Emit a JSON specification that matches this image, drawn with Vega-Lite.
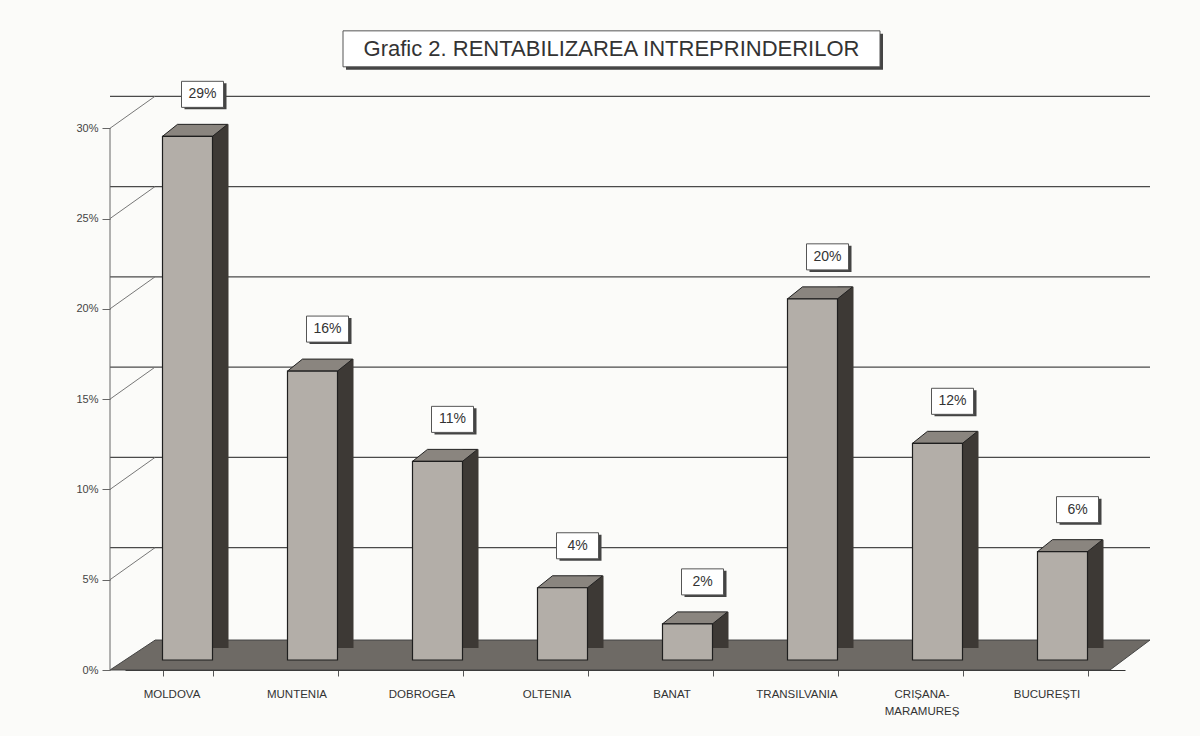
{
  "$schema": "https://vega.github.io/schema/vega-lite/v6.json",
  "width": 1040,
  "height": 632,
  "autosize": "none",
  "padding": {"left": 110, "top": 38, "right": 50, "bottom": 66},
  "background": "#fbfbf9",
  "config": {"view": {"stroke": null}, "font": "Liberation Sans"},
  "datasets": {
    "bars": [
      {"region": "MOLDOVA", "value": 0.29},
      {"region": "MUNTENIA", "value": 0.16},
      {"region": "DOBROGEA", "value": 0.11},
      {"region": "OLTENIA", "value": 0.04},
      {"region": "BANAT", "value": 0.02},
      {"region": "TRANSILVANIA", "value": 0.20},
      {"region": "CRIȘANA-MARAMUREȘ", "value": 0.12},
      {"region": "BUCUREȘTI", "value": 0.06}
    ],
    "ticks": [
      {"t": 0.05}, {"t": 0.10}, {"t": 0.15}, {"t": 0.20}, {"t": 0.25}, {"t": 0.30}
    ]
  },
  "resolve": {"scale": {"x": "shared", "y": "shared"}},
  "layer": [
    {
      "data": {"name": "bars"},
      "mark": {"type": "bar", "fill": "#b3aea8", "stroke": "#1e1e1e", "strokeWidth": 1.2, "yOffset": -10, "y2Offset": -10, "opacity": 0},
      "encoding": {
        "x": {"field": "region", "type": "nominal", "sort": null,
          "scale": {"range": [15, 1015], "paddingInner": 0.6, "paddingOuter": 0.3},
          "axis": {
            "title": null, "labelAngle": 0, "labelFontSize": 11.5, "labelColor": "#333",
            "labelOffset": -16, "labelPadding": 12, "tickBand": "extent", "tickSize": 6,
            "tickColor": "#555", "domainColor": "#333", "labelBaseline": "top", "labelLineHeight": 17,
            "labelExpr": "datum.label == 'CRIȘANA-MARAMUREȘ' ? ['CRIȘANA-', 'MARAMUREȘ'] : datum.label"
          }
        },
        "y": {"field": "value", "type": "quantitative",
          "scale": {"domain": [0, 0.35], "nice": false},
          "axis": {"title": null, "format": ".0%", "values": [0, 0.05, 0.1, 0.15, 0.2, 0.25, 0.3],
            "grid": false, "domain": false, "tickSize": 8, "tickColor": "#666",
            "labelFontSize": 11, "labelColor": "#444", "labelPadding": 4}
        },
        "y2": {"datum": 0}
      }
    },
    {
      "data": {"values": [{"floor": 1}]},
      "mark": {"type": "point", "filled": true, "opacity": 1, "size": 1081600, "xOffset": 67.5,
        "shape": "M-1,0.0288L0.923,0.0288L1,-0.0288L-0.913,-0.0288Z",
        "fill": "#6e6a65", "stroke": "#444", "strokeWidth": 1},
      "encoding": {
        "x": {"datum": "OLTENIA", "type": "nominal"},
        "y": {"datum": 0.0083, "type": "quantitative"}
      }
    },
    {
      "data": {"name": "ticks"},
      "mark": {"type": "rule", "color": "#4a4a4a", "strokeWidth": 1.2, "xOffset": 45, "yOffset": -32, "clip": true},
      "encoding": {"y": {"field": "t", "type": "quantitative"}}
    },
    {
      "data": {"name": "ticks"},
      "mark": {"type": "rule", "color": "#777", "strokeWidth": 1, "y2Offset": -32},
      "encoding": {
        "x": {"value": 0}, "x2": {"value": 45},
        "y": {"field": "t", "type": "quantitative"}, "y2": {"field": "t"}
      }
    },
    {
      "data": {"values": [{"a": 0, "b": 0.30}]},
      "mark": {"type": "rule", "color": "#666", "strokeWidth": 1},
      "encoding": {
        "x": {"value": 0},
        "y": {"field": "a", "type": "quantitative"}, "y2": {"field": "b"}
      }
    },
    {
      "data": {"name": "bars"},
      "mark": {"type": "bar", "color": "#3d3935", "xOffset": 33, "width": 16, "yOffset": -22, "y2Offset": -22},
      "encoding": {
        "x": {"field": "region", "type": "nominal", "sort": null},
        "y": {"field": "value", "type": "quantitative"},
        "y2": {"datum": 0}
      }
    },
    {
      "data": {"name": "bars"},
      "mark": {"type": "point", "filled": true, "opacity": 1, "size": 4225, "yOffset": -10,
        "shape": "M-0.769,0L0.769,0L1.231,-0.369L-0.308,-0.369Z",
        "fill": "#8a857f", "stroke": "#222", "strokeWidth": 1},
      "encoding": {
        "x": {"field": "region", "type": "nominal", "sort": null},
        "y": {"field": "value", "type": "quantitative"}
      }
    },
    {
      "data": {"name": "bars"},
      "mark": {"type": "bar", "fill": "#b3aea8", "stroke": "#1e1e1e", "strokeWidth": 1.2, "yOffset": -10, "y2Offset": -10},
      "encoding": {
        "x": {"field": "region", "type": "nominal", "sort": null},
        "y": {"field": "value", "type": "quantitative"},
        "y2": {"datum": 0}
      }
    },
    {
      "data": {"name": "bars"},
      "mark": {"type": "point", "filled": true, "opacity": 1, "size": 1764, "xOffset": 18, "yOffset": -50,
        "shape": "M-1,-0.62H1V0.62H-1Z", "fill": "#444"},
      "encoding": {
        "x": {"field": "region", "type": "nominal", "sort": null},
        "y": {"field": "value", "type": "quantitative"}
      }
    },
    {
      "data": {"name": "bars"},
      "mark": {"type": "point", "filled": true, "opacity": 1, "size": 1764, "xOffset": 15, "yOffset": -52,
        "shape": "M-1,-0.62H1V0.62H-1Z", "fill": "#ffffff", "stroke": "#555", "strokeWidth": 1},
      "encoding": {
        "x": {"field": "region", "type": "nominal", "sort": null},
        "y": {"field": "value", "type": "quantitative"}
      }
    },
    {
      "data": {"name": "bars"},
      "mark": {"type": "text", "fontSize": 14, "color": "#333", "xOffset": 15, "yOffset": -52, "baseline": "middle", "align": "center"},
      "encoding": {
        "x": {"field": "region", "type": "nominal", "sort": null},
        "y": {"field": "value", "type": "quantitative"},
        "text": {"field": "value", "type": "quantitative", "format": ".0%"}
      }
    },
    {
      "data": {"values": [{"title": "Grafic 2. RENTABILIZAREA INTREPRINDERILOR"}]},
      "mark": {"type": "point", "filled": true, "opacity": 1, "size": 288369, "xOffset": 52, "yOffset": 3,
        "shape": "M-1,-0.067H1V0.067H-1Z", "fill": "#444"},
      "encoding": {
        "x": {"datum": "OLTENIA", "type": "nominal"},
        "y": {"datum": 0.344, "type": "quantitative"}
      }
    },
    {
      "data": {"values": [{"title": "Grafic 2. RENTABILIZAREA INTREPRINDERILOR"}]},
      "mark": {"type": "point", "filled": true, "opacity": 1, "size": 288369, "xOffset": 49,
        "shape": "M-1,-0.067H1V0.067H-1Z", "fill": "#ffffff", "stroke": "#555", "strokeWidth": 1},
      "encoding": {
        "x": {"datum": "OLTENIA", "type": "nominal"},
        "y": {"datum": 0.344, "type": "quantitative"}
      }
    },
    {
      "data": {"values": [{"title": "Grafic 2. RENTABILIZAREA INTREPRINDERILOR"}]},
      "mark": {"type": "text", "fontSize": 22, "color": "#333", "xOffset": 49, "baseline": "middle", "align": "center"},
      "encoding": {
        "x": {"datum": "OLTENIA", "type": "nominal"},
        "y": {"datum": 0.344, "type": "quantitative"},
        "text": {"field": "title", "type": "nominal"}
      }
    }
  ]
}
